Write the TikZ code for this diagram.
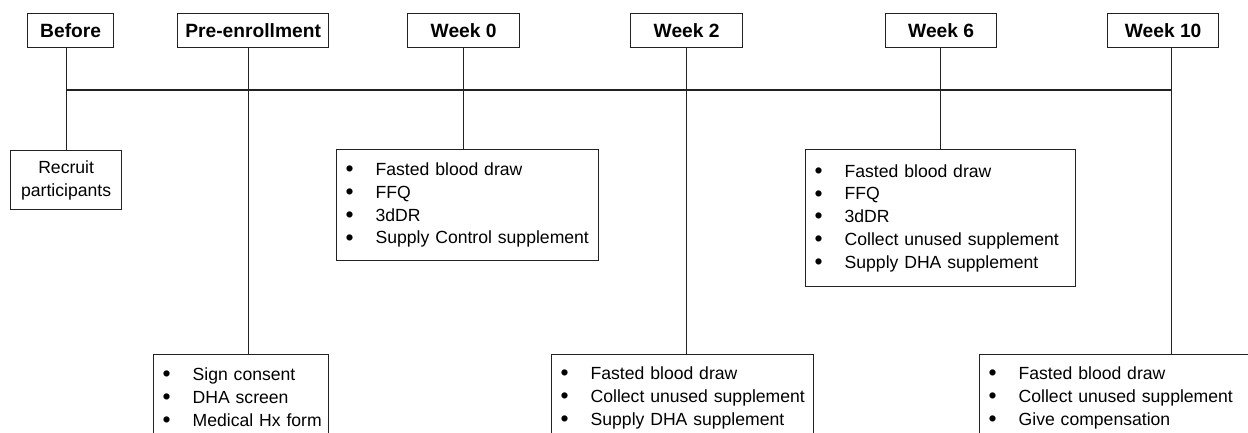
\documentclass[tikz,border=0pt]{standalone}
\usepackage{fontspec}
\setmainfont{Liberation Sans}
\newcommand\bodyfont{\fontsize{17.6}{22.8}\selectfont}
\newcommand\hdrfont{\fontsize{19.2}{23}\selectfont\bfseries}
\newcommand\itm[1]{\mbox{\makebox[30pt][l]{\raisebox{-1.2pt}{\scalebox{1.3}{\textbullet}}}#1}}
\definecolor{ink}{HTML}{222222}
\begin{document}
\begin{tikzpicture}[x=1pt,y=-1pt,
  line width=1.3pt, ink,
  hdr/.style={draw=ink, anchor=north west, inner sep=0pt, minimum height=34pt, font=\hdrfont, text=black},
  listbox/.style={draw=ink, anchor=north west, inner xsep=9pt, inner ysep=0pt, align=left, font=\bodyfont, text=black},
  conn/.style={draw=ink, line width=1.2pt}]
\useasboundingbox (0,0) rectangle (1248,433);
\clip (0,0) rectangle (1248,433);
\fill[white] (0,0) rectangle (1248,433);
% headers
\node[hdr, minimum width=86pt]  (bef) at (27,13)   {Before};
\node[hdr, minimum width=151pt] (pre) at (177,13)  {Pre-enrollment};
\node[hdr, minimum width=112pt] (w0)  at (407,13)  {Week 0};
\node[hdr, minimum width=112pt] (w2)  at (630,13)  {Week 2};
\node[hdr, minimum width=111pt] (w6)  at (885,13)  {Week 6};
\node[hdr, minimum width=111pt] (w10) at (1107,13) {Week 10};
% boxes
\node[listbox, align=center, inner xsep=0pt, minimum width=111pt, text width=111pt, minimum height=59pt] (rec) at (10,150) {Recruit\\participants};
\node[listbox, minimum width=262pt, text width=244pt, minimum height=111pt] (b0) at (336,149)
  {\itm{Fasted blood draw}\\\itm{FFQ}\\\itm{3dDR}\\\itm{Supply Control supplement}};
\node[listbox, minimum width=270pt, text width=252pt, minimum height=137pt] (b6) at (805,149)
  {\itm{Fasted blood draw}\\\itm{FFQ}\\\itm{3dDR}\\\itm{Collect unused supplement}\\\itm{Supply DHA supplement}};
\node[listbox, minimum width=175pt, text width=157pt, minimum height=86pt] (bp) at (153,354)
  {\itm{Sign consent}\\\itm{DHA screen}\\\itm{Medical Hx form}};
\node[listbox, minimum width=262pt, text width=244pt, minimum height=86pt] (b2) at (551,354)
  {\itm{Fasted blood draw}\\\itm{Collect unused supplement}\\\itm{Supply DHA supplement}};
\node[listbox, minimum width=280pt, text width=262pt, minimum height=86pt] (b10) at (979,354)
  {\itm{Fasted blood draw}\\\itm{Collect unused supplement}\\\itm{Give compensation}};
% timeline
\coordinate (hl) at (66,90);
\coordinate (hr) at (1171,90);
\draw[conn] (hl) -- (hr);
% connectors
\draw[conn] ([xshift=-4pt]bef.south) -- ([xshift=-4pt]bef.south |- rec.north);
\draw[conn] ([xshift=-4.5pt]pre.south) -- ([xshift=-4.5pt]pre.south |- bp.north);
\draw[conn] (w0.south) -- (w0.south |- b0.north);
\draw[conn] (w2.south) -- (w2.south |- b2.north);
\draw[conn] ([xshift=-0.5pt]w6.south) -- ([xshift=-0.5pt]w6.south |- b6.north);
\draw[conn] ([xshift=8.5pt]w10.south) -- ([xshift=8.5pt]w10.south |- b10.north);
\end{tikzpicture}
\end{document}
